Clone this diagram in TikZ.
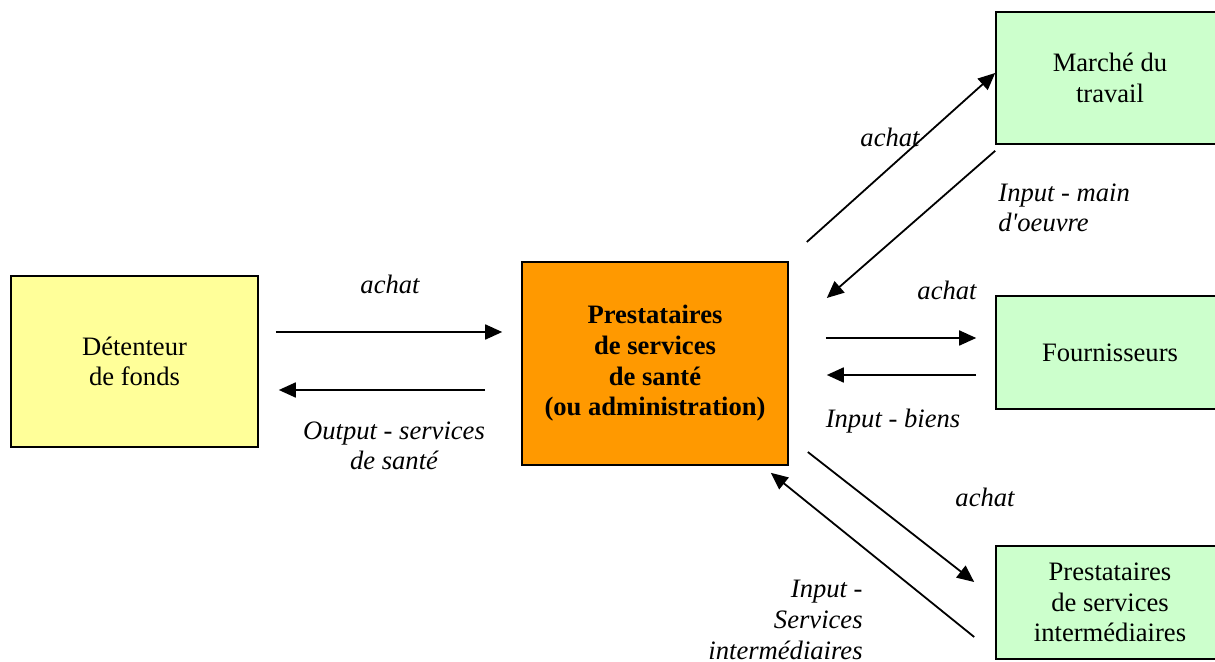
\documentclass[tikz,border=0pt]{standalone}
\usepackage{fontspec}
\setmainfont{Liberation Serif}
\usetikzlibrary{arrows.meta, positioning}

\begin{document}
\begin{tikzpicture}[
    x=0.5pt, y=-0.5pt,
    font=\fontsize{13.3}{15.3}\selectfont,
    box/.style={rectangle, draw, line width=0.8pt, align=center, inner sep=2pt},
    arrow/.style={-{Triangle[length=8.5pt, width=7.5pt]}, line width=0.9pt},
    lbl/.style={font=\fontsize{13.3}{15.3}\selectfont\itshape, inner sep=0pt}
]
    \useasboundingbox (0,0) rectangle (1215,662);

    % Nodes
    \node[box, fill={rgb,255:red,255;green,255;blue,153}, minimum width=123.5pt, minimum height=85.5pt] (fonds) at (134.5,361.5) {D\'etenteur\\de fonds};
    \node[box, fill={rgb,255:red,255;green,153;blue,0}, minimum width=133pt, minimum height=101.5pt, font=\fontsize{13.3}{15.3}\selectfont\bfseries] (prest) at (655,363.5) {Prestataires\\de services\\de sant\'e\\(ou administration)};
    \node[box, fill={rgb,255:red,204;green,255;blue,204}, minimum width=114pt, minimum height=66pt] (marche) at (1110,78) {March\'e du\\travail};
    \node[box, fill={rgb,255:red,204;green,255;blue,204}, minimum width=114pt, minimum height=56.5pt] (fourn) at (1110,352.5) {Fournisseurs};
    \node[box, fill={rgb,255:red,204;green,255;blue,204}, minimum width=114pt, minimum height=56.5pt] (inter) at (1110,602.5) {Prestataires\\de services\\interm\'ediaires};

    % Edges
    \draw[arrow] ([shift={(17,-29.5)}]fonds.east) -- ([shift={(-19,-31.5)}]prest.west);
    \draw[arrow] ([shift={(-36,26.5)}]prest.west) -- ([shift={(20,28.5)}]fonds.east);
    \draw[arrow] ([shift={(18,-121.5)}]prest.east) -- ([shift={(0,-5)}]marche.west);
    \draw[arrow] ([shift={(0,6)}]marche.south west) -- ([shift={(38,-65.5)}]prest.east);
    \draw[arrow] ([shift={(37,-25.5)}]prest.east) -- ([shift={(-19,-14.5)}]fourn.west);
    \draw[arrow] ([shift={(-19,22.5)}]fourn.west) -- ([shift={(38,11.5)}]prest.east);
    \draw[arrow] ([shift={(19,88.5)}]prest.east) -- ([shift={(-21,-20.5)}]inter.west);
    \draw[arrow] ([shift={(-21,34.5)}]inter.west) -- ([shift={(-18,7)}]prest.south east);

    % Labels
    \node[lbl] (achat1) at (390,284) {achat};
    \node[lbl, align=center] (output) at (394,446) {Output - services\\de sant\'e};
    \node[lbl] (achat2) at (890,137) {achat};
    \node[lbl, align=left, anchor=west] (mainoeuvre) at (998,208) {Input - main\\d\textquotesingle oeuvre};
    \node[lbl] (achat3) at (947,290) {achat};
    \node[lbl] (biens) at (893,421) {Input - biens};
    \node[lbl] (achat4) at (985,497) {achat};
    \node[lbl, align=right, anchor=east] (services) at (863,620) {Input -\\Services\\interm\'ediaires};
\end{tikzpicture}
\end{document}
